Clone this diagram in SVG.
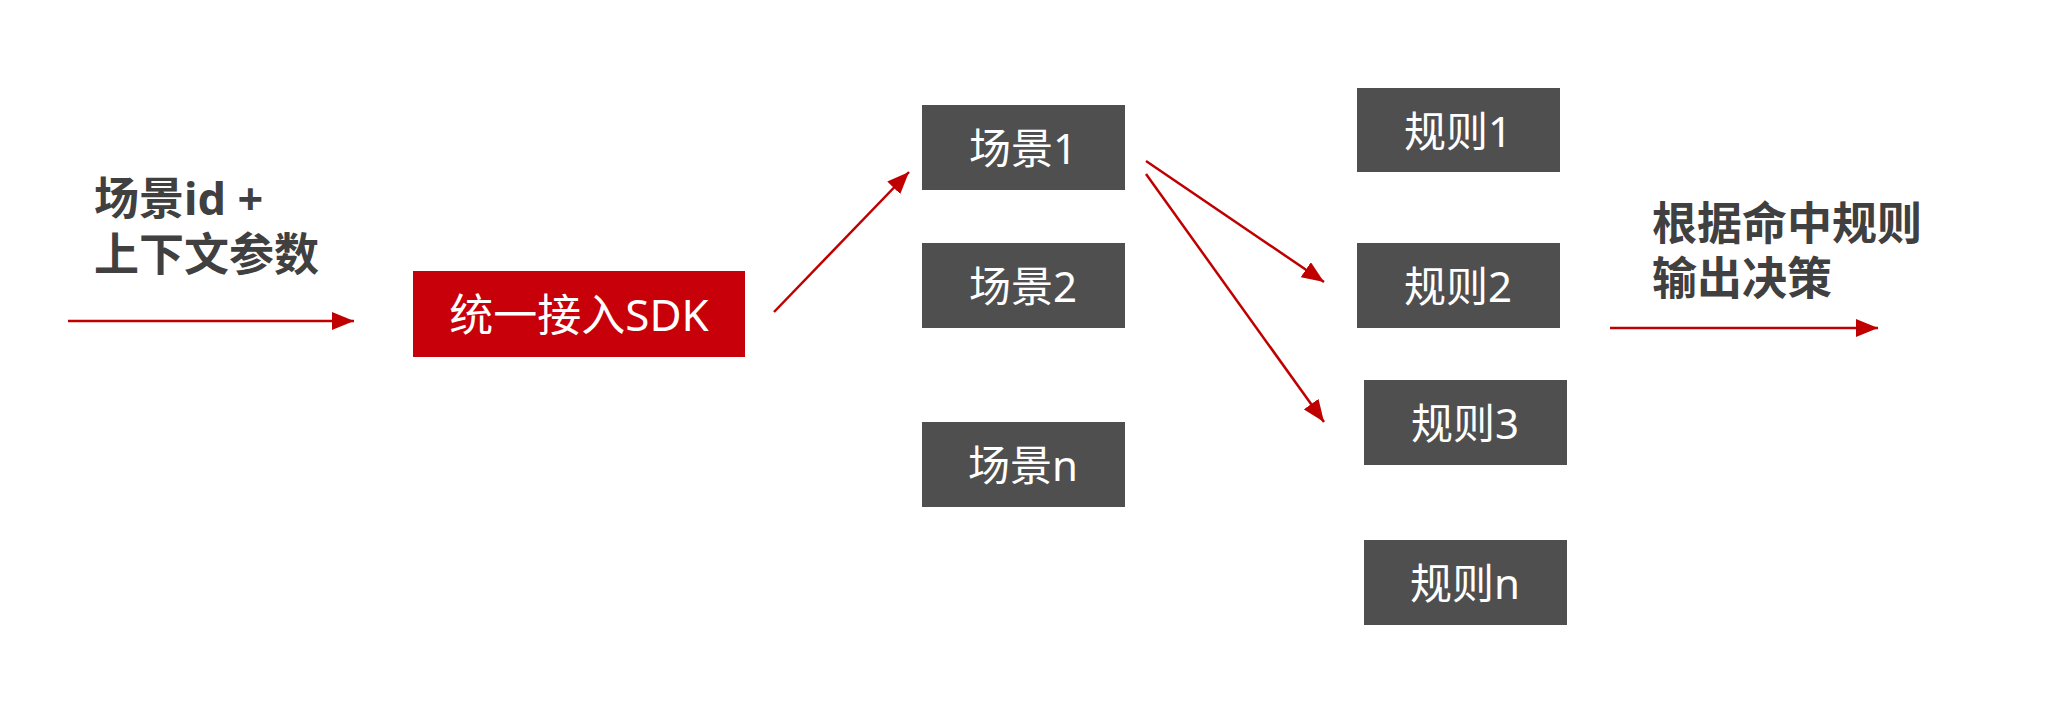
<svg xmlns="http://www.w3.org/2000/svg" width="2056" height="704" viewBox="0 0 2056 704">
<defs>
<marker id="ah" markerUnits="userSpaceOnUse" markerWidth="24" markerHeight="18" refX="22" refY="9" orient="auto">
<path d="M0,0 L22,9 L0,18 Z" fill="#c00000"/>
</marker>
</defs>
<style>
.box{fill:#4f4f4f}
.red{fill:#c8000a}
.lbl{font-family:"Noto Sans","Noto Sans CJK SC",sans-serif;font-size:42px;fill:#ffffff;text-anchor:middle;dominant-baseline:central}
.sdk{font-size:44px}
.note{font-family:"Noto Sans","Noto Sans CJK SC",sans-serif;font-size:45px;font-weight:bold;fill:#404040}
.arr{stroke:#c00000;stroke-width:2.5;fill:none;marker-end:url(#ah)}
</style>
<rect width="2056" height="704" fill="#ffffff"/>
<g id="input-label">
<text class="note"><tspan x="94" y="215">场景id +</tspan><tspan x="94" y="271">上下文参数</tspan></text>
</g>
<g id="sdk"><rect class="red" x="413" y="271" width="332" height="86"/><text class="lbl sdk" x="579" y="314">统一接入SDK</text></g>
<g id="scene1"><rect class="box" x="922" y="105" width="203" height="85"/><text class="lbl" x="1023" y="147">场景1</text></g>
<g id="scene2"><rect class="box" x="922" y="243" width="203" height="85"/><text class="lbl" x="1023" y="285">场景2</text></g>
<g id="scenen"><rect class="box" x="922" y="422" width="203" height="85"/><text class="lbl" x="1023" y="464">场景n</text></g>
<g id="rule1"><rect class="box" x="1357" y="88" width="203" height="84"/><text class="lbl" x="1458" y="130">规则1</text></g>
<g id="rule2"><rect class="box" x="1357" y="243" width="203" height="85"/><text class="lbl" x="1458" y="285">规则2</text></g>
<g id="rule3"><rect class="box" x="1364" y="380" width="203" height="85"/><text class="lbl" x="1465" y="422">规则3</text></g>
<g id="rulen"><rect class="box" x="1364" y="540" width="203" height="85"/><text class="lbl" x="1465" y="582">规则n</text></g>
<g id="output-label">
<text class="note"><tspan x="1652" y="240">根据命中规则</tspan><tspan x="1652" y="295">输出决策</tspan></text>
</g>
<g id="connectors">
<line class="arr" x1="68" y1="321" x2="354" y2="321"/>
<line class="arr" x1="774" y1="312" x2="909" y2="172"/>
<line class="arr" x1="1146" y1="161" x2="1324" y2="282"/>
<line class="arr" x1="1146" y1="174" x2="1324" y2="422"/>
<line class="arr" x1="1610" y1="328" x2="1878" y2="328"/>
</g>
</svg>
